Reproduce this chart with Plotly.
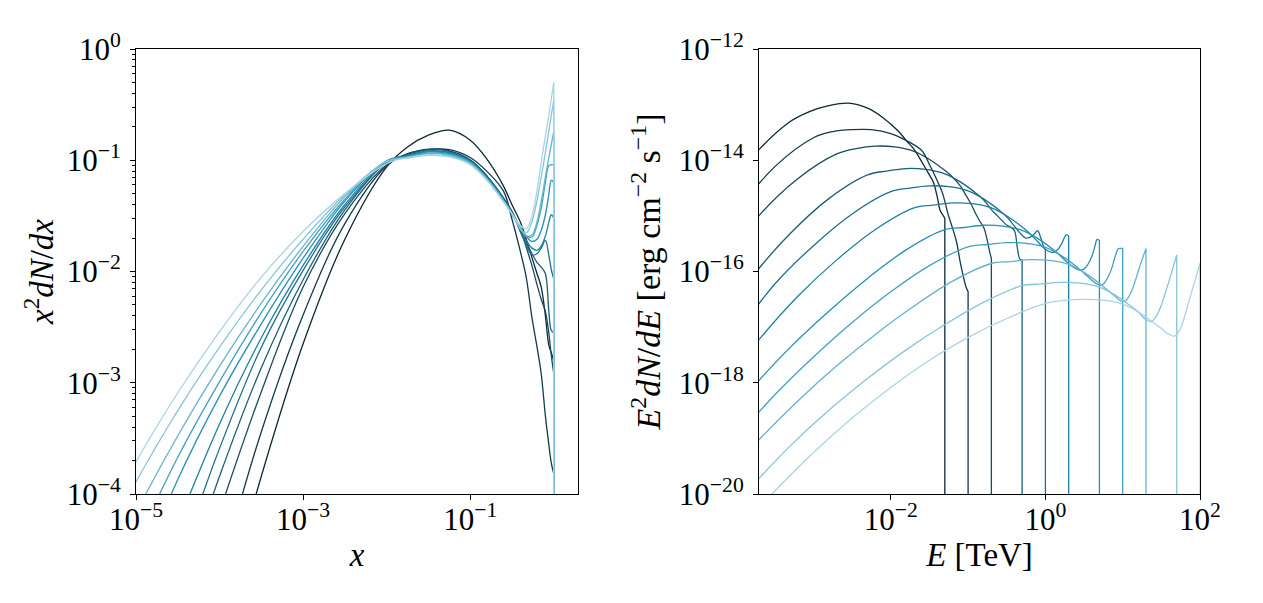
import plotly.graph_objects as go

# ---------------- data ----------------
masses_tev = [0.05, 0.1, 0.2, 0.5, 1, 2, 5, 10, 20, 50, 100]
# E^2 dN/dE [erg cm^-2 s^-1] per unit of x^2 dN/dx for each mass
flux_norm = [5.7e-13, 2.85e-13, 1.425e-13, 5.7e-14, 2.85e-14, 1.425e-14,
             5.7e-15, 2.85e-15, 1.425e-15, 5.7e-16, 2.85e-16]

x_grid = [1.778e-6, 3.162e-6, 1e-5, 3.162e-5, 1e-4, 3.162e-4, 1e-3, 3.162e-3,
          0.01, 0.01778, 0.03162, 0.05623, 0.1, 0.1585, 0.2512, 0.3162, 0.3981,
          0.4677, 0.5495, 0.6310, 0.7079, 0.7943, 0.8710, 0.9333, 1.0, 1.0, 1.0]

y_m0p05 = [None, None, None, None, 6.31e-6, 1.445e-4, 2.239e-3, 1.95e-2,
           8.71e-2, 0.1318, 0.1679, 0.1862, 0.1514, 0.1023, 5.82e-2, 3.98e-2, 2.786e-2,
           1.95e-2, 1.327e-2, 9.55e-3, 7.24e-3, 3.98e-3, 2.19e-3, 1.86e-3, 1.585e-3, 1.585e-3, 1e-30]
y_m0p1 = [None, None, None, None, 1.862e-5, 3.631e-4, 4.074e-3, 2.692e-2,
          8.913e-2, 0.1148, 0.1245, 0.1245, 0.1059, 7.943e-2, 5.248e-2, 2.951e-2, 1.514e-2,
          8.913e-3, 3.802e-3, 2.089e-3, 1.202e-3, 5.012e-4, 2.818e-4, 1.905e-4, 1.514e-4, 1.514e-4, 1e-30]
y_m0p2 = [None, None, None, None, 6.918e-5, 8.318e-4, 7.244e-3, 3.311e-2,
          9.12e-2, 0.1135, 0.1259, 0.1216, 0.1012, 7.244e-2, 4.571e-2, 3.467e-2, 2.399e-2,
          1.66e-2, 1.122e-2, 7.586e-3, 5.623e-3, 4.365e-3, 2.818e-3, 1.778e-3, 1.202e-3, 1.202e-3, 1e-30]
y_m0p5 = [None, None, None, 1.122e-5, 1.445e-4, 1.365e-3, 8.433e-3, 3.581e-2,
          9.55e-2, 0.1122, 0.1245, 0.1202, 0.1, 7.161e-2, 4.519e-2, 3.428e-2, 2.291e-2,
          1.82e-2, 1.445e-2, 1.202e-2, 1.096e-2, 9.55e-3, 4.467e-3, 2.951e-3, 2.818e-3, 2.818e-3, 1e-30]
y_m1 = [None, None, None, 2.265e-5, 2.57e-4, 2.089e-3, 1.023e-2, 3.802e-2,
        9.55e-2, 0.1109, 0.1216, 0.1175, 9.886e-2, 7.079e-2, 4.467e-2, 3.388e-2, 2.291e-2,
        1.738e-2, 1.413e-2, 1.445e-2, 1.622e-2, 1.905e-2, 1.413e-2, 1.047e-2, 8.511e-3, 8.511e-3, 1e-30]
y_m2 = [None, None, None, 5.37e-5, 4.266e-4, 2.541e-3, 1.135e-2, 4.0e-2,
        9.772e-2, 0.1096, 0.1202, 0.1161, 9.772e-2, 6.998e-2, 4.416e-2, 3.35e-2, 2.399e-2,
        1.905e-2, 1.622e-2, 1.549e-2, 1.698e-2, 2.089e-2, 2.754e-2, 3.236e-2, 3.02e-2, 3.02e-2, 1e-30]
y_m5 = [None, None, 1.66e-5, 1.349e-4, 7.586e-4, 3.388e-3, 1.318e-2, 4.295e-2,
        9.886e-2, 0.1084, 0.1189, 0.1148, 9.661e-2, 6.918e-2, 4.365e-2, 3.311e-2, 2.455e-2,
        2.065e-2, 1.862e-2, 1.95e-2, 2.344e-2, 3.236e-2, 4.898e-2, 6.607e-2, 6.31e-2, 6.31e-2, 1e-30]
y_m10 = [None, None, 3.548e-5, 2.138e-4, 1.023e-3, 4.266e-3, 1.514e-2, 4.467e-2,
         9.772e-2, 0.1072, 0.1161, 0.1122, 9.55e-2, 6.839e-2, 4.315e-2, 3.273e-2, 2.455e-2,
         2.089e-2, 2.042e-2, 2.63e-2, 3.715e-2, 6.31e-2, 8.913e-2, 9.12e-2, 9.12e-2, 9.12e-2, 1e-30]
y_m20 = [None, 1.122e-5, 6.761e-5, 3.342e-4, 1.413e-3, 5.188e-3, 1.679e-2, 4.71e-2,
         9.772e-2, 0.1059, 0.1148, 0.1109, 9.441e-2, 6.761e-2, 4.266e-2, 3.273e-2, 2.512e-2,
         2.089e-2, 2.138e-2, 2.818e-2, 4.266e-2, 7.079e-2, 0.1047, 0.138, 0.182, 0.182, 1e-30]
y_m50 = [9.772e-6, 2.399e-5, 1.288e-4, 5.623e-4, 2.089e-3, 6.839e-3, 1.95e-2, 4.898e-2,
         9.772e-2, 0.1047, 0.1117, 0.1084, 9.226e-2, 6.683e-2, 4.266e-2, 3.311e-2, 2.399e-2,
         2.213e-2, 2.818e-2, 4.365e-2, 7.079e-2, 0.1175, 0.182, 0.2512, 0.3467, 0.3467, 1e-30]
y_m100 = [1.718e-5, 3.981e-5, 1.95e-4, 8.128e-4, 2.884e-3, 8.913e-3, 2.291e-2, 5.012e-2,
          9.333e-2, 0.1059, 0.1109, 0.1072, 9.12e-2, 6.607e-2, 4.217e-2, 3.311e-2, 2.6e-2,
          2.427e-2, 3.162e-2, 5.37e-2, 9.55e-2, 0.166, 0.2512, 0.3548, 0.5012, 0.5012, 1e-30]

spectra = [y_m0p05, y_m0p1, y_m0p2, y_m0p5, y_m1, y_m2, y_m5, y_m10, y_m20, y_m50, y_m100]

colors = ['#0c2835', '#123a4b', '#164c61', '#195f78', '#1b708e', '#1d80a2',
          '#2590b4', '#40a0c2', '#63b2cf', '#86c4db', '#a8d4e4']

left_xticks = [1e-5, 1e-3, 1e-1]
left_xtext = ['10<sup>−5</sup>', '10<sup>−3</sup>', '10<sup>−1</sup>']
left_yticks = [1e-4, 1e-3, 1e-2, 1e-1, 1]
left_ytext = ['10<sup>−4</sup>', '10<sup>−3</sup>', '10<sup>−2</sup>', '10<sup>−1</sup>', '10<sup>0</sup>']
right_xticks = [1e-2, 1, 1e2]
right_xtext = ['10<sup>−2</sup>', '10<sup>0</sup>', '10<sup>2</sup>']
right_yticks = [1e-20, 1e-18, 1e-16, 1e-14, 1e-12]
right_ytext = ['10<sup>−20</sup>', '10<sup>−18</sup>', '10<sup>−16</sup>', '10<sup>−14</sup>', '10<sup>−12</sup>']

# ---------------- figure ----------------
fig = go.Figure()
for m, norm, ys, c in zip(masses_tev, flux_norm, spectra, colors):
    line = dict(color=c, width=1.3, shape='spline', smoothing=1.0, simplify=False)
    fig.add_trace(go.Scatter(x=x_grid, y=ys, mode='lines', line=line,
                             xaxis='x', yaxis='y', showlegend=False, hoverinfo='skip'))
    e_vals = [xv * m for xv in x_grid]
    f_vals = [None if v is None else v * norm for v in ys]
    fig.add_trace(go.Scatter(x=e_vals, y=f_vals, mode='lines', line=line,
                             xaxis='x2', yaxis='y2', showlegend=False, hoverinfo='skip'))

FONT = 'Liberation Serif, Times New Roman, serif'
tick_font = dict(family=FONT, size=31, color='black')
title_font = dict(family=FONT, size=33, color='black')
title_font_long = dict(family=FONT, size=34, color='black')

minor_left_y = [d * 10.0 ** e for e in range(-4, 0) for d in range(2, 10)]

common = dict(type='log', showgrid=False, zeroline=False, showline=True, mirror=True,
              linecolor='black', linewidth=1.1, ticks='outside', ticklen=5, tickwidth=1.1,
              tickcolor='black', tickfont=tick_font, automargin=False)

# the page body adds an 8 px offset, so the plot areas are placed 8 px up/left
W, H, OFF = 1263, 603, 8
xd_left = [(136 - OFF) / W, (578 - OFF) / W]
xd_right = [(759 - OFF) / W, (1200 - OFF) / W]
yd = [(H - (494 - OFF)) / H, (H - (49 - OFF)) / H]

fig.update_layout(
    width=W, height=H,
    margin=dict(l=0, r=0, t=0, b=0),
    paper_bgcolor='white', plot_bgcolor='white',
    showlegend=False,
    xaxis=dict(common, domain=xd_left, range=[-5, 0.29], ticklabelstandoff=-7,
               tickmode='array', tickvals=left_xticks, ticktext=left_xtext, anchor='y',
               title=dict(text='<i>x</i>', font=title_font, standoff=6)),
    yaxis=dict(common, domain=yd, range=[-4, 0], ticklabelstandoff=3,
               tickmode='array', tickvals=left_yticks, ticktext=left_ytext, anchor='x',
               minor=dict(tickmode='array', tickvals=minor_left_y, ticks='outside',
                          ticklen=3, tickwidth=0.8, tickcolor='black', showgrid=False),
               title=dict(text='<i>x</i><sup>2</sup><i>dN</i>/<i>dx</i>', font=title_font, standoff=3)),
    xaxis2=dict(common, domain=xd_right, range=[-3.705, 2], ticklabelstandoff=-7,
                tickmode='array', tickvals=right_xticks, ticktext=right_xtext, anchor='y2',
                title=dict(text='<i>E</i> [TeV]', font=title_font, standoff=6)),
    yaxis2=dict(common, domain=yd, range=[-20, -12], ticklabelstandoff=3,
                tickmode='array', tickvals=right_yticks, ticktext=right_ytext, anchor='x2',
                title=dict(text='<i>E</i><sup>2</sup><i>dN</i>/<i>dE</i> [erg cm<sup>−2</sup> s<sup>−1</sup>]',
                           font=title_font_long, standoff=7)),
)

fig.write_html('out.html')
